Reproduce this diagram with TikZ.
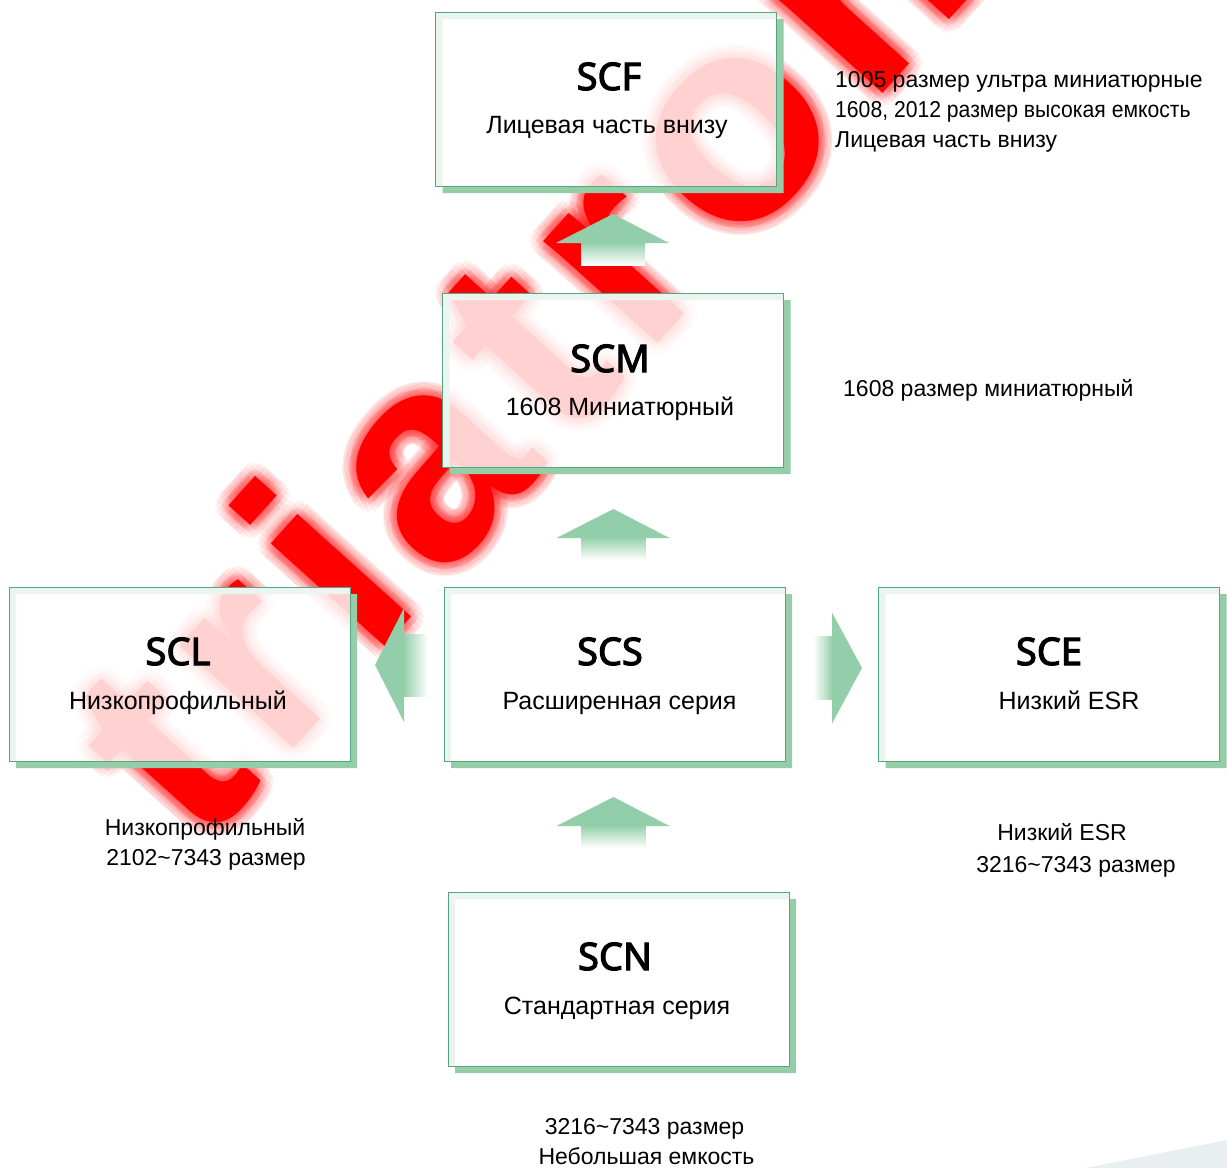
\documentclass[tikz,border=0pt]{standalone}
\usepackage{fontspec}
\setmainfont{Liberation Sans}
\newfontfamily\ttlfont{Noto Sans}[AutoFakeBold=3]
\newfontfamily\wmfont{Liberation Sans}[LetterSpace=8]

\definecolor{boxline}{RGB}{84,166,128}
\definecolor{boxshadow}{RGB}{148,205,168}
\definecolor{arrowgreen}{RGB}{146,206,170}
\definecolor{wmred}{RGB}{255,0,0}
\definecolor{cornergray}{RGB}{233,239,241}

\tikzset{
	series/.style={draw=boxline, line width=1pt, fill=white, fill opacity=0.82, minimum width=341pt, minimum height=174pt, inner sep=0pt},
	sershadow/.style={fill=boxshadow, even odd rule},
	sername/.style={anchor=base, inner sep=0pt, font=\ttlfont\bfseries\fontsize{38}{46}\selectfont},
	serdesc/.style={anchor=base, inner sep=0pt, font=\fontsize{25}{30}\selectfont},
	note/.style={inner sep=0pt, font=\fontsize{23}{28}\selectfont},
	wmark/.style={anchor=base west, inner sep=0pt, rotate=48, font=\wmfont\bfseries\fontsize{290}{290}\selectfont},
	% block arrows, drawn from the tail
	uparr/.pic={
		\shade[top color=arrowgreen, middle color=arrowgreen!85, bottom color=white] (-32,0) rectangle (32,-23);
		\fill[arrowgreen] (-57,-22) -- (0,-51) -- (56,-22) -- cycle;
	},
	leftarr/.pic={
		\shade[left color=arrowgreen, middle color=arrowgreen!85, right color=white] (0,-31) rectangle (-25,31);
		\fill[arrowgreen] (-24,-57) -- (-53,0) -- (-24,57) -- cycle;
	},
	rightarr/.pic={
		\shade[right color=arrowgreen, middle color=arrowgreen!85, left color=white] (0,-31.5) rectangle (20,31.5);
		\fill[arrowgreen] (19,-55.5) -- (49,0) -- (19,55.5) -- cycle;
	}
}

\begin{document}
\begin{tikzpicture}[x=1pt,y=-1pt]
		\useasboundingbox (0,0) rectangle (1227,1168);
		\fill[cornergray] (1085,1168) -- (1227,1140) -- (1227,1168) -- cycle;
		% watermark, behind the boxes
		\begin{scope}[blend mode=multiply]
		\foreach \a in {0,22.5,...,337.5}
			{\node[wmark, text=wmred!6] at ([shift={(\a:14)}]200,852) {triatron};
			 \node[wmark, text=wmred!6] at ([shift={(\a+11:7)}]200,852) {triatron};}
		\node[wmark, text=wmred] (wm) at (200,852) {triatron};
		\end{scope}
		% boxes
		\coordinate (scfc) at (606,99);
		\coordinate (scmc) at (613,380);
		\coordinate (scsc) at (614.5,674);
		\coordinate (sclc) at (179.5,674);
		\coordinate (scec) at (1049,674);
		\coordinate (scnc) at (618.5,979);
		\foreach \b in {scf,scm,scs,scl,sce,scn}
			\fill[sershadow] ([shift={(-163.5,-80)}]\b c) rectangle ([shift={(177.5,94)}]\b c)
				([shift={(-170.5,-87)}]\b c) rectangle ([shift={(170.5,87)}]\b c);
		\node[series] (scf) at (scfc) {};
		\node[series] (scm) at (scmc) {};
		\node[series] (scs) at (scsc) {};
		\node[series] (scl) at (sclc) {};
		\node[series] (sce) at (scec) {};
		\node[series] (scn) at (scnc) {};
		% names and descriptions
		\node[sername] (scfnome) at (609,90) {SCF};
		\node[serdesc] (scfdesc) at (607,133) {Лицевая часть внизу};
		\node[sername] (scmnome) at (610,372) {SCM};
		\node[serdesc] (scmdesc) at (620,415) {1608 Миниатюрный};
		\node[sername] (scsnome) at (610,665) {SCS};
		\node[serdesc] (scsdesc) at (619.5,709) {Расширенная серия};
		\node[sername] (sclnome) at (178,665) {SCL};
		\node[serdesc] (scldesc) at (178,709) {Низкопрофильный};
		\node[sername] (scenome) at (1049,665) {SCE};
		\node[serdesc] (scedesc) at (1069,709) {Низкий ESR};
		\node[sername] (scnnome) at (615,970) {SCN};
		\node[serdesc] (scndesc) at (617,1014) {Стандартная серия};
		% arrows
		\pic (scmscf) at (613,265) {uparr};
		\pic (scsscm) at (613.5,560) {uparr};
		\pic (scnscs) at (613.5,848) {uparr};
		\pic (scsscl) at (428,665) {leftarr};
		\pic (scssce) at (813,668) {rightarr};
		% notes
		\node[note, anchor=base west] (scflinha1) at (835,87) {1005 размер ультра миниатюрные};
		\node[note, anchor=base west] (scflinha2) at (835,117) {\addfontfeatures{FakeStretch=0.92}1608, 2012 размер высокая емкость};
		\node[note, anchor=base west] (scflinha3) at (835,147) {Лицевая часть внизу};
		\node[note, anchor=base west] (scmlinha1) at (843,396) {1608 размер миниатюрный};
		\node[note, anchor=base] (scllinha1) at (205,835) {Низкопрофильный};
		\node[note, anchor=base] (scllinha2) at (206,865) {2102\textasciitilde7343 размер};
		\node[note, anchor=base] (scelinha1) at (1062,840) {Низкий ESR};
		\node[note, anchor=base] (scelinha2) at (1076,872) {3216\textasciitilde7343 размер};
		\node[note, anchor=base] (scnlinha1) at (644.5,1134) {3216\textasciitilde7343 размер};
		\node[note, anchor=base] (scnlinha2) at (646.5,1164) {Небольшая емкость};
\end{tikzpicture}
\end{document}
